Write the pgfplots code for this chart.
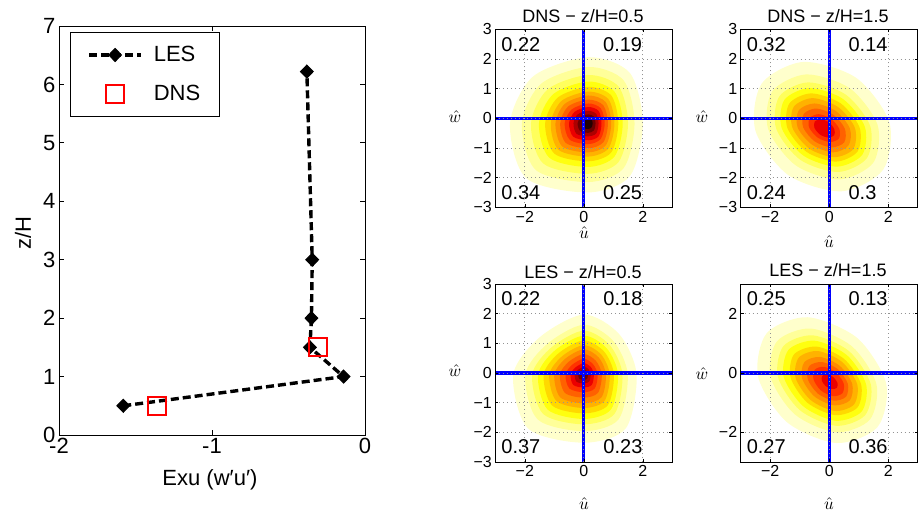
\documentclass[border=0pt]{standalone}
\usepackage{fontspec}
\setmainfont{Liberation Sans}
\usepackage{pgfplots}
\pgfplotsset{compat=1.18}
\definecolor{c1}{rgb}{1,1,0.8}
\definecolor{c2}{rgb}{1,1,0.6}
\definecolor{c3}{rgb}{1,1,0.36}
\definecolor{c4}{rgb}{1,1,0.06}
\definecolor{c5}{rgb}{1,0.85,0}
\definecolor{c6}{rgb}{1,0.7,0}
\definecolor{c7}{rgb}{1,0.55,0}
\definecolor{c8}{rgb}{1,0.38,0}
\definecolor{c9}{rgb}{1,0.2,0}
\definecolor{c10}{rgb}{0.92,0,0}
\definecolor{c11}{rgb}{0.68,0,0}
\definecolor{c12}{rgb}{0.42,0,0}
\definecolor{c13}{rgb}{0.14,0,0}
\tikzset{qnum/.style={anchor=west, inner sep=0pt, font=\fontsize{20}{22}\selectfont},
  hatlab/.style={inner sep=0pt, font=\fontsize{10}{12}\selectfont, scale=1.7, transform shape},
  ptitle/.style={font=\fontsize{18}{20}\selectfont}}
\pgfplotsset{
  band/.style={draw=none, fill=#1, smooth cycle, forget plot},
  cross/.style={color=blue, line width=3.2pt, forget plot},
  pdfpanel/.style={
    scale only axis, width=177pt, height=178pt,
    xmin=-3, xmax=3, ymin=-3, ymax=3,
    axis on top,
    xtick={-2,0,2}, xticklabels={−2,0,2},
    ytick={-3,-2,-1,0,1,2,3}, yticklabels={−3,−2,−1,0,1,2,3},
    grid=major, grid style={color=gray!85, dash pattern=on 1pt off 3pt, line width=0.8pt},
    tick align=inside, major tick length=3pt,
    tick label style={font=\fontsize{16}{18}\selectfont},
    axis line style={line width=0.8pt},
    every tick/.style={black, line width=0.6pt},
  },
}
\begin{document}
\begin{tikzpicture}
\path[use as bounding box] (0pt,0pt) rectangle (919pt,512pt);
% ---------------- left panel ----------------
\begin{axis}[at={(59pt,77pt)}, anchor=south west, scale only axis,
  width=306pt, height=409pt,
  xmin=-2, xmax=0, ymin=0, ymax=7,
  xtick={-2,-1,0}, ytick={0,1,2,3,4,5,6,7},
  tick align=inside, major tick length=5pt,
  /pgf/number format/assume math mode=true,
  tick label style={font=\fontsize{22}{26}\selectfont},
  axis line style={line width=1pt},
  every tick/.style={black, line width=0.8pt},
  legend cell align=left,
  legend image code/.code={\draw[mark repeat=2,mark phase=2,#1] plot coordinates {(0pt,0pt) (26pt,0pt) (52pt,0pt)};},
  legend style={at={(axis description cs:0.036,0.985)}, anchor=north west,
    draw=black, line width=0.8pt, fill=white,
    font=\fontsize{22}{26}\selectfont,
    inner xsep=17pt, inner ysep=12pt, row sep=18pt,
    /tikz/every odd column/.append style={column sep=9pt}},
]
\addplot[black, line width=3.4pt, dash pattern=on 8pt off 4pt,
  mark=diamond*, mark size=6.5pt, mark options={solid, line width=1pt, xscale=1.3}]
  coordinates {(-1.58,0.5) (-0.14,1.0) (-0.36,1.5) (-0.35,2.0) (-0.345,3.0) (-0.38,6.22)};
\addlegendentry{LES}
\addplot[only marks, red, mark=square, mark size=9pt, mark options={line width=2pt}]
  coordinates {(-1.36,0.5) (-0.31,1.5)};
\addlegendentry{DNS}
\end{axis}
\node[font=\fontsize{22}{26}\selectfont] at (210pt,32pt) {Exu (w′u′)};
\node[font=\fontsize{22}{26}\selectfont, rotate=90] at (23pt,279pt) {z/H};
% ---------------- DNS z/H=0.5 ----------------
\begin{axis}[pdfpanel, at={(495.3pt,304.7pt)}, anchor=south west]
\addplot[band=c1] coordinates {(2.00,-0.17) (1.56,1.53) (0.15,2.06) (-1.72,1.41) (-2.50,-0.17) (-1.95,-2.02) (0.15,-2.50) (1.56,-1.95)};
\addplot[band=c2] coordinates {(1.72,-0.17) (1.35,1.28) (0.15,1.73) (-1.44,1.17) (-2.10,-0.17) (-1.63,-1.74) (0.15,-2.15) (1.35,-1.68)};
\addplot[band=c3] coordinates {(1.50,-0.17) (1.18,1.07) (0.15,1.46) (-1.22,0.98) (-1.79,-0.17) (-1.38,-1.52) (0.15,-1.87) (1.18,-1.47)};
\addplot[band=c4] coordinates {(1.32,-0.17) (1.04,0.90) (0.15,1.24) (-1.03,0.82) (-1.52,-0.17) (-1.17,-1.33) (0.15,-1.64) (1.04,-1.29)};
\addplot[band=c5] coordinates {(1.17,-0.17) (0.93,0.77) (0.15,1.06) (-0.88,0.70) (-1.31,-0.17) (-1.00,-1.19) (0.15,-1.45) (0.93,-1.15)};
\addplot[band=c6] coordinates {(1.04,-0.17) (0.83,0.65) (0.15,0.90) (-0.75,0.59) (-1.12,-0.17) (-0.86,-1.06) (0.15,-1.29) (0.83,-1.02)};
\addplot[band=c7] coordinates {(0.93,-0.17) (0.74,0.55) (0.15,0.77) (-0.64,0.49) (-0.96,-0.17) (-0.73,-0.95) (0.15,-1.15) (0.74,-0.92)};
\addplot[band=c8] coordinates {(0.82,-0.17) (0.66,0.44) (0.15,0.63) (-0.53,0.40) (-0.80,-0.17) (-0.61,-0.83) (0.15,-1.01) (0.66,-0.81)};
\addplot[band=c9] coordinates {(0.71,-0.17) (0.57,0.34) (0.15,0.50) (-0.41,0.30) (-0.65,-0.17) (-0.48,-0.72) (0.15,-0.87) (0.57,-0.70)};
\addplot[band=c10] coordinates {(0.60,-0.17) (0.50,0.25) (0.15,0.38) (-0.31,0.22) (-0.50,-0.17) (-0.36,-0.62) (0.15,-0.74) (0.50,-0.61)};
\addplot[band=c11] coordinates {(0.50,-0.17) (0.42,0.15) (0.15,0.25) (-0.21,0.13) (-0.35,-0.17) (-0.25,-0.52) (0.15,-0.61) (0.42,-0.51)};
\addplot[band=c12] coordinates {(0.40,-0.17) (0.34,0.06) (0.15,0.13) (-0.10,0.04) (-0.21,-0.17) (-0.13,-0.42) (0.15,-0.49) (0.34,-0.41)};
\addplot[band=c13] coordinates {(0.30,-0.17) (0.26,-0.03) (0.15,0.01) (0.00,-0.04) (-0.06,-0.17) (-0.02,-0.32) (0.15,-0.36) (0.26,-0.31)};
\addplot[cross] coordinates {(-3,0) (3,0)};
\addplot[cross] coordinates {(0,-3) (0,3)};
\node[qnum] at (axis cs:-2.8,2.47) {0.22};
\node[qnum] at (axis cs:0.65,2.47) {0.19};
\node[qnum] at (axis cs:-2.8,-2.51) {0.34};
\node[qnum] at (axis cs:0.65,-2.51) {0.25};
\end{axis}
% ---------------- DNS z/H=1.5 ----------------
\begin{axis}[pdfpanel, at={(740.7pt,304.7pt)}, anchor=south west]
\addplot[band=c1] coordinates {(1.83,-1.73) (2.04,-0.14) (0.92,1.36) (-0.88,1.90) (-2.29,1.17) (-2.50,-0.42) (-1.38,-1.92) (0.42,-2.46)};
\addplot[band=c2] coordinates {(1.50,-1.49) (1.64,-0.22) (0.70,1.01) (-0.78,1.48) (-1.93,0.91) (-2.07,-0.36) (-1.13,-1.59) (0.35,-2.06)};
\addplot[band=c3] coordinates {(1.28,-1.34) (1.39,-0.26) (0.56,0.80) (-0.72,1.21) (-1.69,0.74) (-1.80,-0.34) (-0.98,-1.40) (0.30,-1.81)};
\addplot[band=c4] coordinates {(1.12,-1.23) (1.21,-0.29) (0.47,0.65) (-0.66,1.02) (-1.52,0.62) (-1.61,-0.33) (-0.87,-1.26) (0.26,-1.63)};
\addplot[band=c5] coordinates {(0.96,-1.12) (1.03,-0.31) (0.38,0.51) (-0.61,0.84) (-1.35,0.50) (-1.42,-0.32) (-0.77,-1.13) (0.22,-1.46)};
\addplot[band=c6] coordinates {(0.82,-1.03) (0.87,-0.32) (0.30,0.38) (-0.56,0.68) (-1.20,0.39) (-1.25,-0.31) (-0.68,-1.02) (0.18,-1.31)};
\addplot[band=c7] coordinates {(0.66,-0.91) (0.70,-0.34) (0.22,0.25) (-0.50,0.50) (-1.03,0.27) (-1.07,-0.31) (-0.58,-0.89) (0.13,-1.15)};
\addplot[band=c8] coordinates {(0.51,-0.81) (0.53,-0.35) (0.14,0.12) (-0.44,0.33) (-0.86,0.15) (-0.88,-0.31) (-0.49,-0.78) (0.08,-0.98)};
\addplot[band=c9] coordinates {(0.33,-0.68) (0.34,-0.35) (0.05,-0.01) (-0.36,0.14) (-0.66,0.01) (-0.68,-0.31) (-0.39,-0.65) (0.02,-0.80)};
\addplot[band=c10] coordinates {(0.17,-0.57) (0.17,-0.36) (-0.02,-0.13) (-0.29,-0.03) (-0.49,-0.11) (-0.50,-0.32) (-0.31,-0.55) (-0.03,-0.65)};
\addplot[cross] coordinates {(-3,0) (3,0)};
\addplot[cross] coordinates {(0,-3) (0,3)};
\node[qnum] at (axis cs:-2.8,2.47) {0.32};
\node[qnum] at (axis cs:0.65,2.47) {0.14};
\node[qnum] at (axis cs:-2.8,-2.51) {0.24};
\node[qnum] at (axis cs:0.65,-2.51) {0.3};
\end{axis}
% ---------------- LES z/H=0.5 ----------------
\begin{axis}[pdfpanel, at={(495.3pt,50pt)}, anchor=south west]
\addplot[band=c1] coordinates {(1.79,-0.05) (1.20,1.31) (0,1.97) (-1.49,1.21) (-2.39,-0.05) (-1.89,-1.87) (0,-2.35) (1.42,-1.87)};
\addplot[band=c2] coordinates {(1.49,-0.05) (1.00,1.08) (0,1.63) (-1.23,0.99) (-1.98,-0.05) (-1.57,-1.56) (0,-1.96) (1.18,-1.56)};
\addplot[band=c3] coordinates {(1.31,-0.05) (0.88,0.94) (0,1.43) (-1.09,0.87) (-1.75,-0.05) (-1.38,-1.38) (0,-1.73) (1.04,-1.38)};
\addplot[band=c4] coordinates {(1.16,-0.05) (0.78,0.83) (0,1.26) (-0.97,0.77) (-1.55,-0.05) (-1.23,-1.23) (0,-1.55) (0.92,-1.23)};
\addplot[band=c5] coordinates {(1.02,-0.05) (0.69,0.72) (0,1.10) (-0.85,0.67) (-1.36,-0.05) (-1.08,-1.09) (0,-1.36) (0.81,-1.09)};
\addplot[band=c6] coordinates {(0.88,-0.05) (0.59,0.62) (0,0.94) (-0.73,0.57) (-1.17,-0.05) (-0.93,-0.94) (0,-1.18) (0.70,-0.94)};
\addplot[band=c7] coordinates {(0.75,-0.05) (0.51,0.52) (0,0.80) (-0.63,0.48) (-1.00,-0.05) (-0.80,-0.82) (0,-1.02) (0.60,-0.82)};
\addplot[band=c8] coordinates {(0.61,-0.05) (0.41,0.41) (0,0.64) (-0.51,0.38) (-0.81,-0.05) (-0.64,-0.67) (0,-0.83) (0.48,-0.67)};
\addplot[band=c9] coordinates {(0.47,-0.05) (0.31,0.30) (0,0.48) (-0.39,0.28) (-0.62,-0.05) (-0.49,-0.52) (0,-0.65) (0.37,-0.52)};
\addplot[band=c10] coordinates {(0.34,-0.05) (0.23,0.21) (0,0.33) (-0.28,0.19) (-0.45,-0.05) (-0.36,-0.40) (0,-0.49) (0.27,-0.40)};
\addplot[band=c11] coordinates {(0.23,-0.05) (0.16,0.13) (0,0.21) (-0.19,0.11) (-0.31,-0.05) (-0.25,-0.29) (0,-0.35) (0.18,-0.29)};
\addplot[band=c12] coordinates {(0.14,-0.05) (0.10,0.06) (0,0.11) (-0.12,0.05) (-0.19,-0.05) (-0.15,-0.20) (0,-0.23) (0.11,-0.20)};
\addplot[cross] coordinates {(-3,0) (3,0)};
\addplot[cross] coordinates {(0,-3) (0,3)};
\node[qnum] at (axis cs:-2.8,2.5) {0.22};
\node[qnum] at (axis cs:0.66,2.5) {0.18};
\node[qnum] at (axis cs:-2.8,-2.48) {0.37};
\node[qnum] at (axis cs:0.66,-2.48) {0.23};
\end{axis}
% ---------------- LES z/H=1.5 ----------------
\begin{axis}[pdfpanel, at={(740.7pt,50pt)}, anchor=south west,
  ytick={-2,0,2}, yticklabels={−2,0,2}]
\addplot[band=c1] coordinates {(1.64,-1.82) (1.93,-0.35) (0.95,1.18) (-0.73,1.88) (-2.12,1.34) (-2.41,-0.13) (-1.43,-1.66) (0.25,-2.36)};
\addplot[band=c2] coordinates {(1.38,-1.57) (1.60,-0.37) (0.77,0.90) (-0.63,1.50) (-1.77,1.07) (-1.99,-0.13) (-1.16,-1.40) (0.24,-2.00)};
\addplot[band=c3] coordinates {(1.22,-1.42) (1.41,-0.38) (0.67,0.74) (-0.56,1.27) (-1.55,0.91) (-1.74,-0.13) (-1.00,-1.25) (0.23,-1.78)};
\addplot[band=c4] coordinates {(1.10,-1.30) (1.25,-0.38) (0.59,0.61) (-0.50,1.09) (-1.38,0.78) (-1.54,-0.14) (-0.87,-1.13) (0.22,-1.61)};
\addplot[band=c5] coordinates {(0.96,-1.16) (1.08,-0.38) (0.51,0.47) (-0.43,0.89) (-1.19,0.63) (-1.31,-0.15) (-0.74,-1.00) (0.20,-1.42)};
\addplot[band=c6] coordinates {(0.84,-1.06) (0.95,-0.38) (0.44,0.37) (-0.38,0.74) (-1.03,0.52) (-1.14,-0.16) (-0.63,-0.91) (0.19,-1.28)};
\addplot[band=c7] coordinates {(0.70,-0.92) (0.78,-0.37) (0.36,0.24) (-0.31,0.54) (-0.84,0.37) (-0.92,-0.18) (-0.50,-0.79) (0.17,-1.09)};
\addplot[band=c8] coordinates {(0.57,-0.80) (0.63,-0.36) (0.29,0.13) (-0.24,0.37) (-0.67,0.24) (-0.73,-0.20) (-0.39,-0.69) (0.15,-0.93)};
\addplot[band=c9] coordinates {(0.45,-0.68) (0.49,-0.35) (0.23,0.02) (-0.18,0.21) (-0.49,0.11) (-0.53,-0.22) (-0.28,-0.59) (0.13,-0.78)};
\addplot[band=c10] coordinates {(0.26,-0.50) (0.28,-0.33) (0.14,-0.14) (-0.07,-0.04) (-0.23,-0.09) (-0.25,-0.26) (-0.12,-0.44) (0.09,-0.54)};
\addplot[cross] coordinates {(-3,0) (3,0)};
\addplot[cross] coordinates {(0,-3) (0,3)};
\node[qnum] at (axis cs:-2.8,2.5) {0.25};
\node[qnum] at (axis cs:0.65,2.5) {0.13};
\node[qnum] at (axis cs:-2.8,-2.48) {0.27};
\node[qnum] at (axis cs:0.65,-2.48) {0.36};
\end{axis}
% titles and labels of the four panels
\node[ptitle] at (583pt,496pt) {DNS − z/H=0.5};
\node[ptitle] at (828pt,496pt) {DNS − z/H=1.5};
\node[ptitle] at (583pt,240pt) {LES − z/H=0.5};
\node[ptitle] at (828pt,242pt) {LES − z/H=1.5};
\node[hatlab] at (584pt,279pt) {$\hat{u}$};
\node[hatlab] at (829pt,270pt) {$\hat{u}$};
\node[hatlab] at (584pt,8pt) {$\hat{u}$};
\node[hatlab] at (829pt,8pt) {$\hat{u}$};
\node[hatlab] at (455pt,395pt) {$\hat{w}$};
\node[hatlab] at (702pt,395pt) {$\hat{w}$};
\node[hatlab] at (455pt,141pt) {$\hat{w}$};
\node[hatlab] at (702pt,138pt) {$\hat{w}$};
\end{tikzpicture}
\end{document}
